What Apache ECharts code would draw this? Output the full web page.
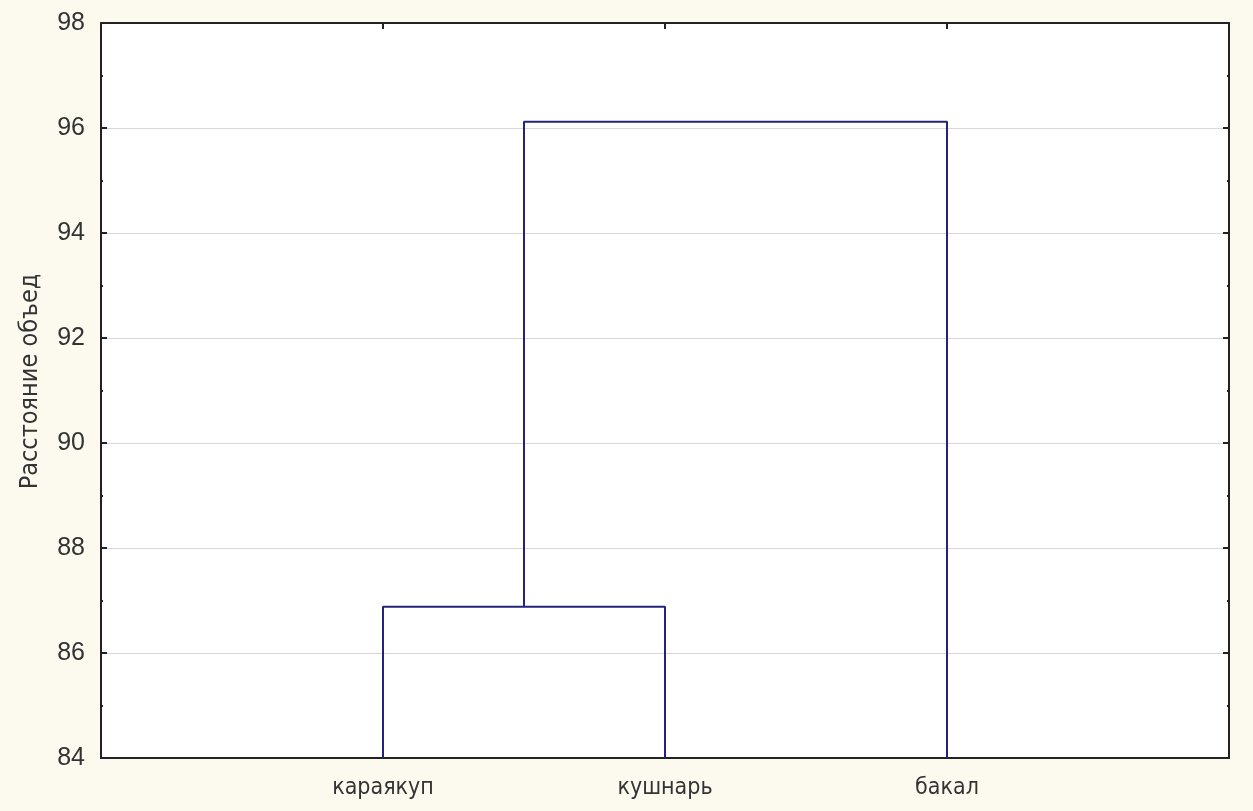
<!DOCTYPE html>
<html>
<head>
<meta charset="utf-8">
<script src="https://cdn.jsdelivr.net/npm/echarts@6/dist/echarts.min.js"></script>
<style>
html,body{margin:0;padding:0;background:#fcf9ef;}
#chart{width:1253px;height:811px;}
</style>
</head>
<body>
<div id="chart"></div>
<script>
// Leaves (in dendrogram order) and their x positions
const leafLabels = ['караякуп', 'кушнарь', 'бакал'];
const leafPos = [1, 2, 3];
// Merges: [left node, right node, height]; nodes 0..2 are leaves, 3.. are clusters
const merges = [
  [0, 1, 86.88],
  [3, 2, 96.12]
];
const yTicks = [84, 86, 88, 90, 92, 94, 96, 98];
const yAxisTitle = 'Расстояние объед';

// Build dendrogram line segments from the data
const nodeX = leafPos.slice();
const nodeY = leafPos.map(() => 84);
const segData = [];
merges.forEach((m) => {
  const [a, b, h] = m;
  segData.push([nodeX[a], nodeY[a]], [nodeX[a], h], [nodeX[b], h], [nodeX[b], nodeY[b]], null);
  nodeX.push((nodeX[a] + nodeX[b]) / 2);
  nodeY.push(h);
});
segData.pop();

const chart = echarts.init(document.getElementById('chart'));
const numFont = '"Liberation Sans Narrow", "Liberation Sans", Arial, sans-serif';
const txtFont = '"DejaVu Sans Condensed", "DejaVu Sans", sans-serif';
chart.setOption({
  backgroundColor: '#fcf9ef',
  animation: false,
  grid: { left: 101, right: 24, top: 23, bottom: 53, show: true, backgroundColor: '#ffffff', borderColor: '#333', borderWidth: 0 },
  xAxis: [
    {
      type: 'value', min: 0, max: 4, interval: 1, position: 'bottom',
      axisLine: { show: true, onZero: false, lineStyle: { color: '#222', width: 2 } },
      axisTick: { show: false },
      splitLine: { show: false },
      axisLabel: {
        color: '#333', fontSize: 23, fontFamily: txtFont, margin: 19,
        formatter: (v) => { const i = leafPos.indexOf(v); return i >= 0 ? leafLabels[i] : ''; }
      }
    },
    {
      type: 'value', min: 0, max: 4, interval: 1, position: 'top',
      axisLine: { show: true, onZero: false, lineStyle: { color: '#222', width: 2 } },
      axisTick: { show: true, inside: true, length: 6, lineStyle: { color: '#222', width: 2 },
        customValues: leafPos },
      splitLine: { show: false },
      axisLabel: { show: false }
    }
  ],
  yAxis: [
    {
      type: 'value', min: 84, max: 98, interval: 2, position: 'left',
      name: yAxisTitle, nameLocation: 'middle', nameGap: 58, nameRotate: 90,
      nameTextStyle: { color: '#333', fontSize: 25, fontFamily: txtFont, padding: [0, 0, 0, 18] },
      axisLine: { show: true, onZero: false, lineStyle: { color: '#222', width: 2 } },
      axisTick: { show: true, inside: true, length: 6, lineStyle: { color: '#222', width: 2 } },
      minorTick: { show: true, splitNumber: 2, length: 2, lineStyle: { color: '#222', width: 2 } },
      splitLine: { show: true, lineStyle: { color: '#d8d8d8', width: 1 } },
      axisLabel: { color: '#333', fontSize: 25, fontFamily: numFont, margin: 16,
        formatter: (v) => yTicks.includes(v) ? String(v) : '' }
    },
    {
      type: 'value', min: 84, max: 98, interval: 2, position: 'right',
      axisLine: { show: true, onZero: false, lineStyle: { color: '#222', width: 2 } },
      axisTick: { show: true, inside: true, length: 6, lineStyle: { color: '#222', width: 2 } },
      minorTick: { show: true, splitNumber: 2, length: 2, lineStyle: { color: '#222', width: 2 } },
      splitLine: { show: false },
      axisLabel: { show: false }
    }
  ],
  series: [{
    type: 'line',
    data: segData,
    connectNulls: false,
    symbol: 'none',
    lineStyle: { color: '#23237a', width: 2 },
    xAxisIndex: 0, yAxisIndex: 0
  }]
});
</script>
</body>
</html>
